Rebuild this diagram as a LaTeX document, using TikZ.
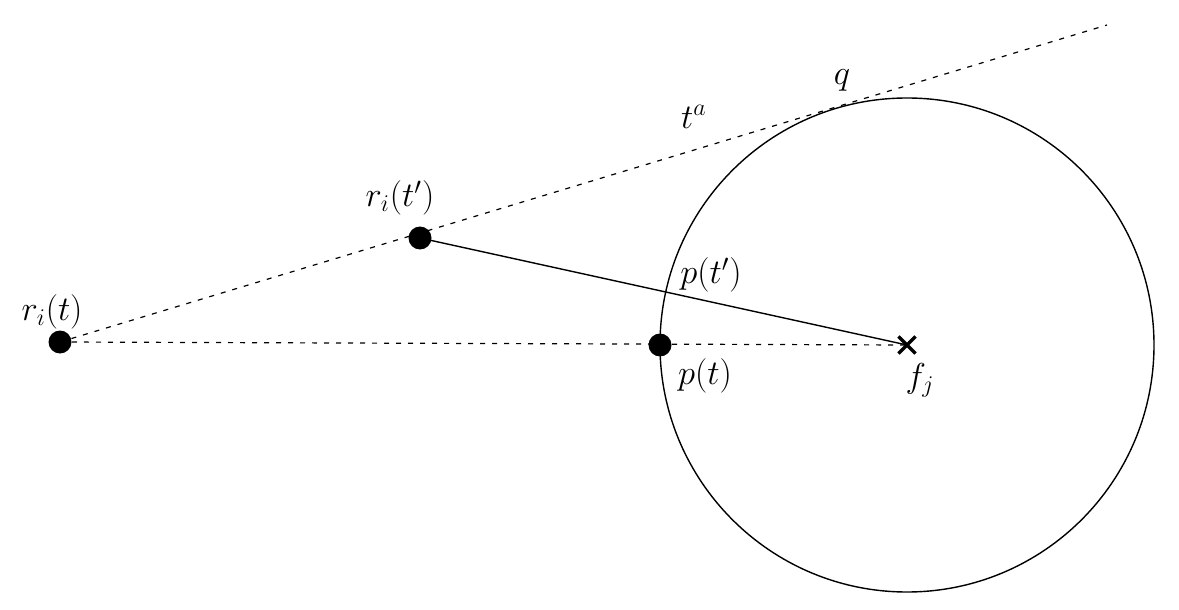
\documentclass[tikz,border=0pt]{standalone}
\usetikzlibrary{shapes.misc}
\begin{document}
\begin{tikzpicture}[x=0.5pt,y=-0.5pt,
  dot/.style={circle,fill=black,inner sep=0pt,minimum size=11.5pt},
  lab/.style={font=\fontsize{17}{20}\selectfont},
  dotted line/.style={dash pattern=on 2.5pt off 3.5pt,line width=0.6pt}]
\useasboundingbox (0,0) rectangle (1179,610);
\coordinate (end) at (1107,25);
\node[dot] (rt) at (60,342) {};
\node[dot] (rtp) at (420,238) {};
\node[dot] (pt) at (660,345) {};
\coordinate (f) at (907,345);
\draw[line width=0.7pt] (f) circle[radius=247];
\draw[dotted line] (rt.center) -- (end);
\draw[dotted line] (rt.center) -- (f);
\draw[line width=0.7pt] (rtp.center) -- (f);
\node[line width=1.6pt,draw,cross out,minimum size=7pt,inner sep=0pt] (fj) at (f) {};
\node[lab] at (52,312) {$r_i(t)$};
\node[lab] at (400,198) {$r_i(t')$};
\node[lab] at (694,117) {$t^a$};
\node[lab] at (842,80) {$q$};
\node[lab] at (711,275) {$p(t')$};
\node[lab] at (705,376) {$p(t)$};
\node[lab] at (920,380) {$f_j$};
\end{tikzpicture}
\end{document}
